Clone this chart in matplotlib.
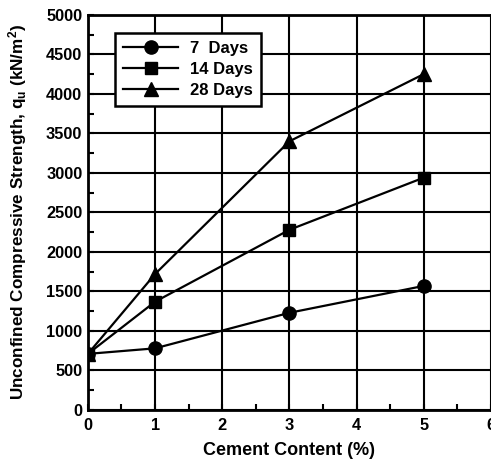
import matplotlib
matplotlib.use("Agg")
import matplotlib.pyplot as plt
from matplotlib.ticker import MultipleLocator

plt.rcParams['font.family'] = ['Liberation Sans', 'DejaVu Sans']
plt.rcParams['mathtext.fontset'] = 'custom'
plt.rcParams['mathtext.rm'] = 'Liberation Sans:bold'
plt.rcParams['mathtext.it'] = 'Liberation Sans:bold'

cement = [0, 1, 3, 5]
days7 = [710, 780, 1230, 1570]
days14 = [710, 1370, 2280, 2940]
days28 = [710, 1720, 3400, 4250]
xticks = [0, 1, 2, 3, 4, 5, 6]
yticks = list(range(0, 5001, 500))

fig = plt.figure(figsize=(4.91, 4.63), dpi=100)
ax = fig.add_axes([0.179, 0.1145, 0.821, 0.8535])

ax.plot(cement, days7, color='black', lw=1.6, marker='o', ms=9.5, label='7  Days')
ax.plot(cement, days14, color='black', lw=1.6, marker='s', ms=8.5, label='14 Days')
ax.plot(cement, days28, color='black', lw=1.6, marker='^', ms=9.5, label='28 Days')

ax.set_xlim(0, 6)
ax.set_ylim(0, 5000)
ax.set_xticks(xticks)
ax.set_yticks(yticks)
ax.xaxis.set_minor_locator(MultipleLocator(0.5))
ax.yaxis.set_minor_locator(MultipleLocator(250))
ax.grid(True, which='major', color='black', lw=1.5)
ax.set_axisbelow(True)
ax.tick_params(which='both', direction='in', length=4, width=1.5, labelsize=11.8, pad=4)
ax.tick_params(axis='x', pad=6)
for lab in ax.get_xticklabels() + ax.get_yticklabels():
    lab.set_fontweight('bold')
for s in ax.spines.values():
    s.set_linewidth(2)
    s.set_color('black')

ax.set_xlabel('Cement Content (%)', fontsize=13, fontweight='bold', labelpad=6)
ax.set_ylabel('Unconfined Compressive Strength, q$_u$ (kN/m$^2$)', fontsize=12.3,
              fontweight='bold', labelpad=12)

leg = ax.legend(loc='upper left', bbox_to_anchor=(0.067, 0.954), borderaxespad=0,
                fancybox=False, framealpha=1, edgecolor='black',
                prop={'weight': 'bold', 'size': 12},
                handlelength=3.3, borderpad=0.5, labelspacing=0.35, handletextpad=0.7)
leg.get_frame().set_linewidth(1.8)

fig.savefig('out.png', dpi=100)
